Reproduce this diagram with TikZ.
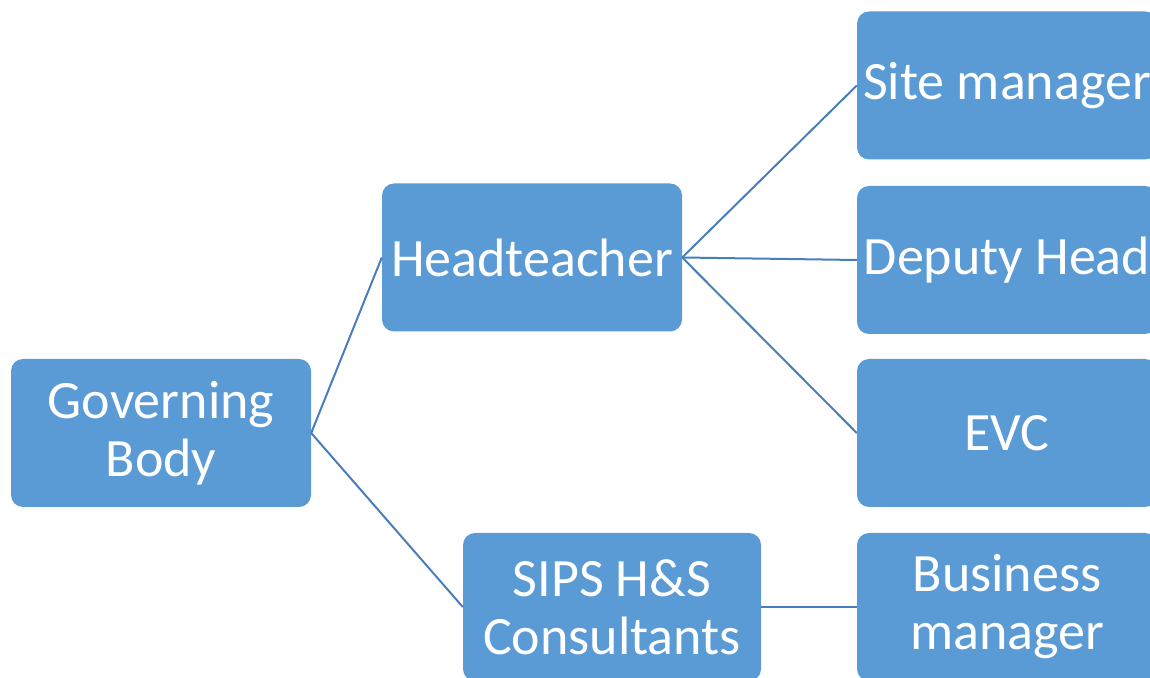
\documentclass[tikz,border=0pt]{standalone}
\usepackage{fontspec}
\setmainfont{Carlito}
\definecolor{boxblue}{HTML}{5B9BD5}
\definecolor{lineblue}{HTML}{4A7EBB}
\begin{document}
\begin{tikzpicture}[x=1pt,y=1pt,
  orgbox/.style={rectangle, rounded corners=12pt, fill=boxblue, draw=none,
    text=white, minimum width=300pt, minimum height=148pt, inner sep=0pt,
    align=center, font=\fontsize{54}{58}\selectfont},
  link/.style={draw=lineblue, line width=2pt}]
\useasboundingbox (0,0) rectangle (1150,677);
\clip (0,0) rectangle (1150,677);
\node[orgbox] (gov) at (161,244) {Governing\\Body};
\node[orgbox] (head) at (532,419.5) {Headteacher};
\node[orgbox, minimum width=298pt] (sips) at (612,70) {SIPS H\&S\\Consultants};
\node[orgbox] (site) at (1007,591.5) {Site manager};
\node[orgbox] (dep) at (1007,417) {Deputy Head};
\node[orgbox] (evc) at (1007,244) {EVC};
\node[orgbox] (bus) at (1007,70) {Business\\manager};
\draw[link] (gov.east) -- (head.west);
\draw[link] (gov.east) -- (sips.west);
\draw[link] (head.east) -- (site.west);
\draw[link] (head.east) -- (dep.west);
\draw[link] (head.east) -- (evc.west);
\draw[link] (sips.east) -- (bus.west);
\end{tikzpicture}
\end{document}
